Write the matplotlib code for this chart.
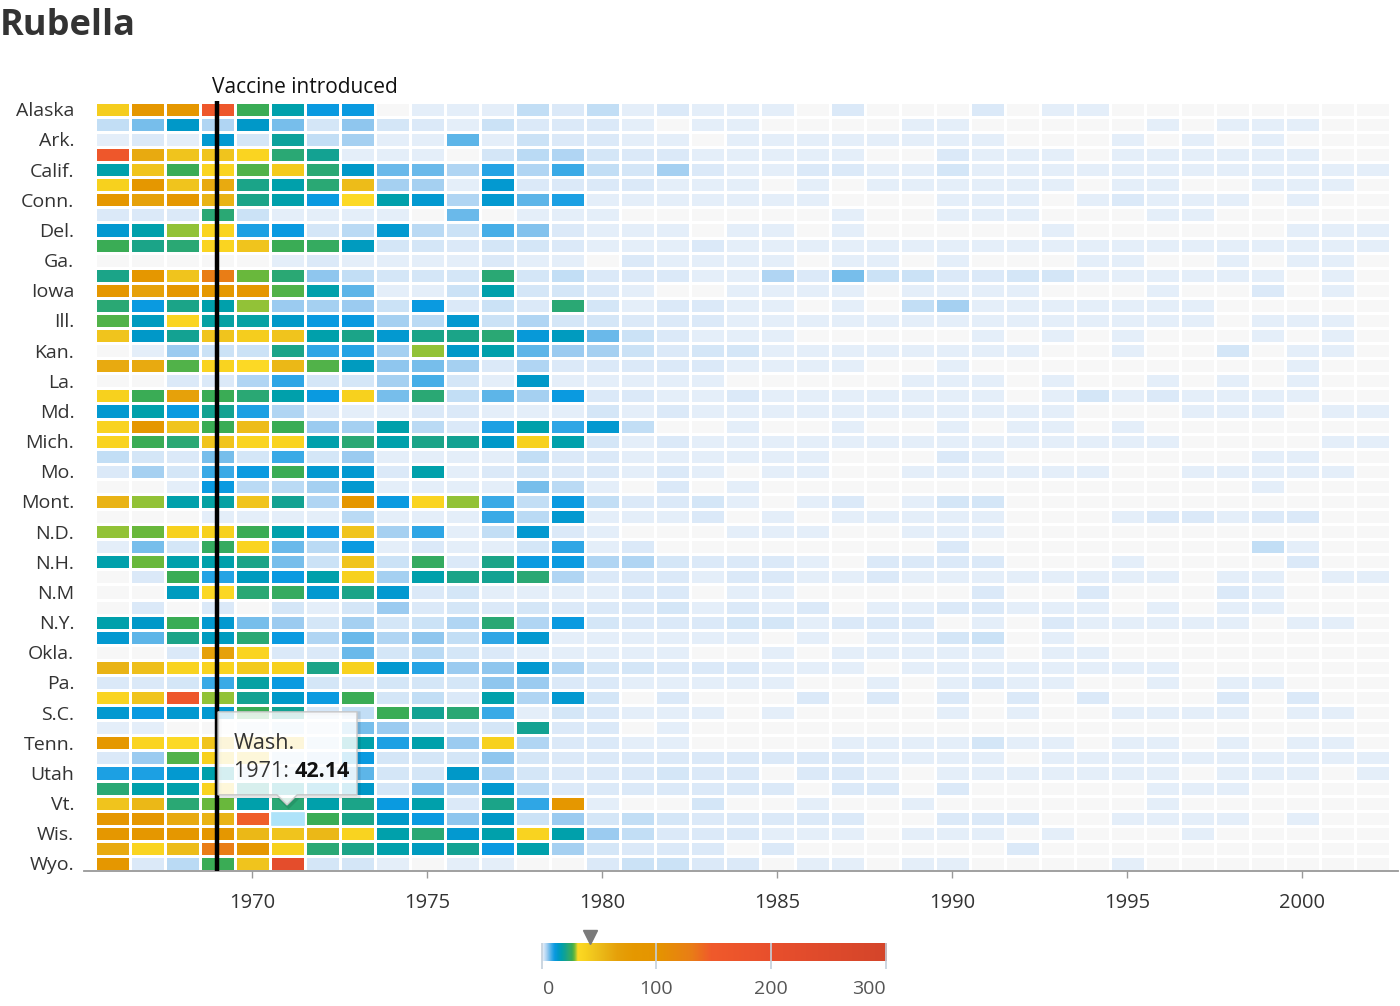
import numpy as np
import matplotlib
matplotlib.use('Agg')
import matplotlib.pyplot as plt
import matplotlib.transforms as mtransforms
from matplotlib.colors import LinearSegmentedColormap, Normalize
from matplotlib.patches import Polygon, Rectangle

plt.rcParams['font.family'] = ['Open Sans', 'DejaVu Sans']

years = np.arange(1966, 2003)

states = ['Alaska', 'Ala.', 'Ark.', 'Ariz.', 'Calif.', 'Colo.', 'Conn.', 'D.C.', 'Del.', 'Fla.',
          'Ga.', 'Hawaii', 'Iowa', 'Idaho', 'Ill.', 'Ind.', 'Kan.', 'Ky.', 'La.', 'Mass.',
          'Md.', 'Maine', 'Mich.', 'Minn.', 'Mo.', 'Miss.', 'Mont.', 'N.C.', 'N.D.', 'Neb.',
          'N.H.', 'N.J.', 'N.M', 'Nev.', 'N.Y.', 'Ohio', 'Okla.', 'Ore.', 'Pa.', 'R.I.',
          'S.C.', 'S.D.', 'Tenn.', 'Texas', 'Utah', 'Va.', 'Vt.', 'Wash.', 'Wis.', 'W.Va.', 'Wyo.']

# cases per 100,000 people, 1966-2002
rates = [
    [40, 90, 90, 160, 26, 17, 11, 11, 0, 0.5, 0.5, 0.5, 2.5, 1, 2.5, 0.5, 1, 0.5, 0.5, 0.5, 0, 1, 0, 0, 0, 1, 0, 0.5, 0.5, 0, 0, 0, 0, 0, 0, 0, 0],
    [2.5, 6, 14, 3.5, 14, 6, 1.5, 5, 1.5, 1, 0.5, 2, 1, 1, 1, 0.5, 0, 0.5, 0.5, 0, 0, 0, 0, 0.5, 0.5, 0, 0, 0, 0, 0, 0.5, 0, 0.5, 0.5, 0.5, 0, 0],
    [0.5, 1, 0.5, 13, 1.5, 19, 2.5, 4, 0.5, 0.5, 7, 0.5, 2, 1, 1, 0.5, 0.5, 0, 0.5, 0.5, 0.5, 0.5, 0.5, 0.5, 0.5, 0.5, 0, 0, 0, 0.5, 0, 0.5, 0, 0.5, 0, 0, 0],
    [160, 60, 45, 45, 35, 23, 20, 0.5, 0.5, 0.5, 0, 1.5, 3, 3.5, 1.5, 1, 1, 0.5, 0.5, 0.5, 0.5, 0.5, 0, 0, 1, 0.5, 0.5, 0.5, 0, 0.5, 0.5, 0.5, 0.5, 0.5, 0.5, 0, 0],
    [17, 45, 26, 35, 27, 42, 23, 14, 6.5, 6.5, 3.5, 9.5, 3.5, 8.5, 2.5, 1.5, 4, 1, 0.5, 0.5, 1, 1, 0.5, 0.5, 1.5, 0.5, 0.5, 0.5, 0.5, 0.5, 0.5, 0.5, 0.5, 0.5, 0.5, 0.5, 0.5],
    [38, 90, 45, 60, 21, 17, 23, 50, 4, 4, 0.5, 13, 1, 1, 1, 1, 0.5, 0.5, 0.5, 0, 0.5, 0, 0.5, 0.5, 0.5, 0.5, 0.5, 0.5, 0, 0.5, 0.5, 0, 0, 0.5, 0.5, 0.5, 0],
    [90, 65, 90, 55, 21, 17, 11, 31, 17, 13, 3.5, 13, 7, 10, 0.5, 0.5, 0.5, 0.5, 0.5, 0.5, 0.5, 0, 0, 0, 0.5, 0.5, 0.5, 0, 0.5, 1, 0.5, 0.5, 0.5, 0, 0.5, 0, 0],
    [1, 1, 1, 23, 2, 0.5, 0.5, 0.5, 0.5, 0, 6.5, 0, 0.5, 0.5, 0.5, 0, 0, 0, 0, 0, 0, 0.5, 0, 0, 0.5, 0.5, 0.5, 0, 0, 0, 0.5, 0.5, 0, 0, 0, 0, 0],
    [13, 17, 29, 35, 10, 11, 1.5, 3, 13, 3, 2, 8, 5.5, 1, 0.5, 0.5, 0.5, 0, 0.5, 0.5, 0, 0.5, 0, 0, 0, 0, 0, 0.5, 0, 0, 0, 0, 0, 0, 0.5, 0.5, 0.5],
    [26, 21, 23, 35, 45, 26, 25, 15, 1.5, 1.5, 1, 1.5, 1.5, 1, 0.5, 0.5, 0.5, 1, 0.5, 0.5, 0.5, 0.5, 0.5, 0.5, 0.5, 0.5, 0.5, 0.5, 0.5, 0.5, 0.5, 0.5, 0.5, 0.5, 0.5, 0.5, 0.5],
    [0, 0, 0, 0, 0, 0.5, 1, 0.5, 0.5, 0.5, 0.5, 1, 0.5, 0.5, 0, 1, 0.5, 0.5, 0.5, 0.5, 0, 0.5, 0.5, 0, 0.5, 0, 0, 0, 0.5, 0.5, 0, 0, 0.5, 0, 0.5, 0.5, 0],
    [21, 90, 45, 130, 28, 23, 5, 2.5, 1.5, 1.5, 1.5, 23, 1.5, 2.5, 1, 1, 1, 0.5, 0.5, 3.5, 1, 6, 2, 2, 1, 1, 1.5, 1.5, 0.5, 0.5, 0.5, 0.5, 0.5, 0.5, 0, 0.5, 0],
    [90, 65, 90, 80, 90, 27, 17, 7, 0.5, 0.5, 2, 17, 1.5, 1.5, 1, 0.5, 0, 0, 0.5, 0.5, 0.5, 0.5, 0, 0.5, 0.5, 0.5, 0.5, 0, 0, 0, 0.5, 0, 0, 1, 0, 0.5, 0],
    [23, 11, 21, 17, 29, 4.5, 4, 4.5, 2, 11, 1, 2, 1, 23, 1.5, 0.5, 1, 1, 0.5, 0.5, 0, 0.5, 0, 2.5, 4, 0.5, 0.5, 0.5, 0.5, 0.5, 0.5, 0.5, 0, 0, 0, 0, 0],
    [27, 15, 35, 18, 18, 14, 11, 11, 4, 3, 13, 2, 3.5, 1.5, 1.5, 1, 1, 1, 0.5, 0.5, 0.5, 0.5, 0.5, 0.5, 0.5, 0.5, 0.5, 0.5, 0.5, 0.5, 0.5, 0.5, 0, 0.5, 0.5, 0.5, 0],
    [45, 14, 20, 45, 40, 45, 17, 21, 13, 21, 21, 23, 12, 15, 6.5, 2, 1, 0.5, 0.5, 0.5, 0, 0, 0, 0, 0, 0.5, 0, 0.5, 0, 0.5, 0, 0, 0, 0.5, 0, 0.5, 0],
    [0, 0.5, 4.5, 2, 2, 21, 9, 9.5, 4, 29, 14, 17, 7, 4.5, 4, 2, 1, 1.5, 1.5, 0.5, 0.5, 0.5, 0.5, 0.5, 0.5, 0.5, 0.5, 0, 0, 0.5, 0, 0, 1.5, 0, 0.5, 0.5, 0],
    [60, 60, 27, 36, 31, 52, 27, 15, 5, 6, 4, 1, 3.5, 1, 1, 1, 1, 1, 0.5, 0.5, 0.5, 0.5, 0, 0, 0.5, 0, 0, 0, 0, 0, 0, 0, 0, 0, 0.5, 0, 0],
    [0, 0, 1, 1, 3.5, 9, 1.5, 1.5, 4, 8, 1.5, 0.5, 14, 0.5, 0.5, 0.5, 0.5, 0.5, 0, 0, 0, 0, 0, 0.5, 0.5, 0.5, 0, 0.5, 0, 0, 0.5, 0, 0.5, 0, 0.5, 0, 0],
    [38, 26, 65, 26, 23, 17, 11, 38, 6, 23, 2.5, 7, 4, 11, 1, 1, 0.5, 0.5, 1, 0.5, 0.5, 0.5, 0.5, 0.5, 0.5, 0.5, 0, 0.5, 1.5, 0.5, 1, 0.5, 0.5, 0.5, 0.5, 0, 0],
    [13, 17, 11, 20, 10, 3.5, 1, 0.5, 0.5, 1, 1, 0.5, 0.5, 0.5, 1.5, 0.5, 1, 0.5, 0.5, 0.5, 0.5, 0.5, 0.5, 0.5, 0.5, 0.5, 0.5, 0.5, 0, 0, 0, 0.5, 0.5, 0.5, 0, 0.5, 0.5],
    [36, 90, 45, 26, 50, 26, 4.5, 4, 17, 3, 1, 10, 17, 9, 13, 2.5, 0, 0, 0.5, 0, 0, 0.5, 0, 0, 0.5, 0, 0.5, 0.5, 0, 0.5, 0, 0, 0, 0, 0, 0, 0],
    [36, 26, 23, 45, 35, 36, 17, 23, 17, 21, 20, 14, 38, 17, 1.5, 0.5, 1, 0.5, 0.5, 0.5, 0.5, 0.5, 0.5, 0.5, 0.5, 0.5, 0.5, 0.5, 0.5, 0.5, 0.5, 0, 0, 0, 0, 0.5, 0.5],
    [2.5, 1.5, 1, 6, 1.5, 8.5, 1.5, 4.5, 0.5, 0.5, 0.5, 0.5, 2.5, 1, 1, 0.5, 0.5, 0.5, 0.5, 0.5, 0.5, 0, 0, 0, 1, 0.5, 0, 0, 0, 0, 0, 0, 0, 0.5, 0.5, 0, 0],
    [1, 4, 1.5, 8.5, 11, 26, 13, 13, 1, 17, 0.5, 1, 1.5, 1, 1, 0.5, 1, 0.5, 0, 0.5, 0.5, 0, 0, 0.5, 0.5, 0.5, 0.5, 0.5, 0.5, 0, 0, 0.5, 0.5, 0.5, 0.5, 0.5, 0],
    [0, 0, 0.5, 11, 3, 3, 4, 13, 0.5, 0.5, 0.5, 0.5, 6, 3, 0.5, 0, 1, 0, 0.5, 0, 0, 0, 0, 0, 0, 0, 0, 0, 0, 0, 0, 0, 0, 0.5, 0, 0, 0],
    [55, 29, 17, 18, 45, 20, 3.5, 90, 11, 35, 29, 8.5, 2.5, 11, 2.5, 1, 1, 1.5, 0.5, 0, 0.5, 1, 0, 0.5, 1.5, 1.5, 0, 0, 0, 0, 0, 0, 0, 0, 0, 0, 0],
    [0, 0, 0, 0.5, 0.5, 0.5, 0.5, 3, 0.5, 0.5, 0.5, 8.5, 3, 13, 0.5, 0.5, 0.5, 1, 0, 0.5, 0, 0.5, 0.5, 0.5, 0.5, 0.5, 0, 0, 0, 0.5, 1, 1, 0.5, 1, 1, 0, 0],
    [29, 28, 38, 38, 26, 17, 11, 45, 4, 9, 0.5, 2.5, 13, 1, 0.5, 0, 0, 0, 0.5, 0.5, 0.5, 0, 0, 0.5, 0.5, 0.5, 0, 0, 0, 0, 0, 0, 0, 0, 0, 0, 0],
    [0.5, 6, 1.5, 25, 35, 6.5, 3, 11, 0.5, 1, 0.5, 0.5, 1.5, 9, 0.5, 1, 0, 0, 0, 0, 0, 0, 0, 0, 1, 0, 0, 0, 0, 0, 0, 0, 0, 2.5, 0.5, 0, 0],
    [17, 28, 17, 17, 21, 6, 2, 45, 2, 25, 1, 21, 11, 11, 3.5, 3.5, 1.5, 1, 1, 1, 0.5, 0, 1, 1, 1, 1, 0, 0, 0, 0.5, 0, 0, 0, 0, 1, 0, 0],
    [0, 1, 26, 9.5, 15, 11, 17, 38, 4, 17, 21, 20, 23, 3.5, 1, 1, 1, 0.5, 1, 1, 0.5, 0.5, 1, 0.5, 0.5, 0.5, 0.5, 0.5, 0.5, 0.5, 0.5, 0, 0.5, 0.5, 0, 0.5, 0.5],
    [0, 0, 15, 33, 23, 25, 13, 21, 13, 1, 1.5, 0.5, 0.5, 0.5, 0.5, 1, 1, 0, 0.5, 0.5, 0, 0, 0, 0, 0, 1, 0, 0, 1, 0, 0, 0, 1, 0.5, 0, 0, 0],
    [0, 1, 0, 1, 0, 1.5, 0.5, 1.5, 4.5, 1, 1.5, 1, 1.5, 1, 1, 1, 1.5, 0.5, 1, 0.5, 1, 0, 0.5, 0.5, 1, 1, 0.5, 0.5, 0.5, 0, 0.5, 0, 0.5, 0.5, 0, 0, 0],
    [17, 14, 26, 13, 6, 4.5, 1.5, 4, 1.5, 2, 3.5, 23, 3.5, 11, 1.5, 1, 1, 1, 1.5, 1.5, 0.5, 1, 1, 1, 0, 0.5, 0, 1, 0.5, 0.5, 0.5, 0.5, 0.5, 0, 0.5, 0.5, 0],
    [13, 7, 21, 15, 23, 11, 3.5, 6.5, 3.5, 5, 2.5, 9, 13, 0.5, 0.5, 0.5, 0.5, 0.5, 0.5, 0, 0.5, 0, 0.5, 0.5, 1.5, 2, 0, 0.5, 0, 0, 0, 0, 0, 0, 0, 0, 0],
    [0, 0, 1, 65, 35, 1, 1, 6.5, 1.5, 3, 1.5, 1, 0.5, 0.5, 0.5, 0.5, 0.5, 0, 0, 0.5, 0, 0.5, 0.5, 0.5, 0.5, 0.5, 0, 0.5, 0.5, 0, 0, 0, 0, 0, 0, 0, 0],
    [55, 48, 36, 36, 42, 38, 21, 38, 13, 9.5, 4.5, 5, 13, 3.5, 1.5, 1.5, 1, 1, 1, 0.5, 0.5, 0.5, 0, 0.5, 0.5, 0.5, 0.5, 0.5, 0.5, 0.5, 0.5, 0, 0, 0, 0, 0, 0],
    [1, 1, 1.5, 8.5, 18, 11, 1.5, 1, 1.5, 1.5, 1.5, 5, 4.5, 1, 1, 0.5, 0.5, 0.5, 0.5, 0.5, 0, 0, 0.5, 0, 0.5, 1, 0.5, 0.5, 0, 0, 0.5, 0, 0.5, 0.5, 0, 0, 0],
    [35, 45, 160, 29, 20, 14, 11, 26, 1.5, 2.5, 1, 17, 3.5, 13, 1.5, 0, 1, 0, 0, 0, 1, 0, 1, 0, 1, 0, 1, 0, 1, 0, 0, 0, 1, 0, 1, 0, 0],
    [13, 11, 13, 13, 26, 20, 1.5, 2.5, 26, 20, 23, 8.5, 0.5, 1.5, 1, 0.5, 0.5, 0.5, 0, 0.5, 0, 0, 0, 0, 0.5, 0, 0.5, 0, 0, 0.5, 0.5, 0.5, 0.5, 0, 0.5, 0.5, 0],
    [0.5, 0.5, 0, 0, 1, 2, 1, 6, 4.5, 1.5, 1.5, 1.5, 20, 1, 1, 0, 0.5, 0, 0, 0, 0, 0, 0, 0, 0, 0, 0, 0, 0, 0, 0, 0, 0, 0, 0, 0, 0],
    [80, 35, 31, 45, 40, 40, 2, 17, 10, 17, 4.5, 38, 3.5, 1, 1, 0.5, 0.5, 0, 0, 0, 0, 0.5, 0.5, 0.5, 0.5, 1.5, 0.5, 0.5, 0, 0.5, 0.5, 0, 0.5, 0, 0.5, 0.5, 0],
    [1, 4.5, 27, 38, 38, 2, 3, 11, 1.5, 1.5, 1.5, 5, 1.5, 1, 1, 1, 1, 1, 1, 1, 1, 1, 0.5, 0.5, 0.5, 0.5, 0, 0.5, 0.5, 0.5, 0.5, 0.5, 0.5, 0.5, 0.5, 0.5, 0.5],
    [10, 10, 13, 17, 2, 2, 3, 7, 1.5, 1.5, 14, 3.5, 1.5, 1, 1, 1, 1.5, 1, 1, 0, 1, 1, 0.5, 0, 0.5, 0.5, 0.5, 0.5, 0.5, 0.5, 0.5, 0, 0.5, 0.5, 0.5, 0, 0.5],
    [23, 17, 17, 36, 20, 17, 14, 14, 1.5, 6, 4, 13, 3, 1, 1, 1, 1, 1, 1, 1, 0, 1, 1, 0, 1, 0, 0, 0, 0, 0, 0.5, 0.5, 0.5, 0, 0, 0, 0],
    [45, 52, 23, 28, 17, 23, 17, 21, 11, 17, 1, 21, 9, 90, 0.5, 0, 0, 1.5, 0, 0, 0.5, 0, 0, 0.5, 0, 0, 0, 0, 0, 0, 0.5, 0, 0, 0, 0, 0, 0],
    [85, 90, 60, 55, 145, 42.14, 26, 21, 14, 11, 5, 14, 2, 4.5, 1.5, 2.5, 1.5, 1, 1, 1, 1, 1, 0, 0, 1, 1, 1, 0, 0, 0.5, 0.5, 0.5, 0.5, 0, 0.5, 0, 0],
    [90, 90, 90, 90, 52, 45, 52, 36, 17, 23, 13, 17, 36, 17, 4.5, 2.5, 1, 1, 1, 0.5, 0.5, 0.5, 0, 0.5, 0.5, 0.5, 0, 0.5, 0, 0, 0, 0.5, 0, 0, 0, 0, 0],
    [60, 35, 50, 130, 90, 38, 23, 21, 17, 15, 20, 11, 17, 4, 1.5, 1, 1, 1, 0, 1, 0, 0, 0, 0, 0, 0, 1, 0, 0, 0, 0, 0, 0, 0, 0, 0, 0],
    [85, 1, 3, 26, 45, 220, 1.5, 1.5, 0.5, 0, 0.5, 0.5, 0, 0, 1, 2, 2, 1, 1, 0, 0.5, 0.5, 0, 0.5, 0.5, 0, 0, 0, 0, 0.5, 0, 0, 0, 0, 0, 0, 0],
]

vaccine_year = 1969
hover_state = 'Wash.'
hover_year = 1971
legend_ticks = [0, 100, 200, 300]
x_ticks = [1970, 1975, 1980, 1985, 1990, 1995, 2000]

# colour scale stops (value, colour)
stops = [(0, '#f7f7f7'), (0.3, '#e7f0fa'), (1, '#dbe9f8'), (2, '#cbe2f6'), (3.5, '#b0d5f3'),
         (5, '#8fc6ee'), (7, '#5db5e8'), (9, '#2ea6e5'), (11, '#0a9ae0'), (14, '#0098c8'),
         (17, '#00a0ab'), (20, '#13a292'), (23, '#2aa874'), (26, '#3aac55'), (28, '#69b83c'),
         (29.5, '#a8c835'), (31, '#fdd925'), (38, '#f7d11e'), (45, '#f0c41d'), (55, '#e9b315'),
         (65, '#e6a10a'), (80, '#e59800'), (100, '#e59500'), (130, '#e97d16'), (147, '#f05a2b'),
         (200, '#e84f2d'), (300, '#d4452a')]

data = np.array(rates)
vmax = stops[-1][0]
cmap = LinearSegmentedColormap.from_list('rubella', [(v / vmax, c) for v, c in stops], N=8192)
norm = Normalize(0, vmax)

fig = plt.figure(figsize=(14, 10.06), dpi=100)
ax = fig.add_axes([84 / 1400, 1 - 871 / 1006, 1314 / 1400, 770 / 1006])

xe = np.append(years - 0.5, years[-1] + 0.5)
ye = np.arange(len(states) + 1) - 0.5
ax.pcolormesh(xe, ye, data, cmap=cmap, norm=norm, edgecolors='white', linewidth=0.95)
ax.set_xlim(1965.2, 2002.74)
ax.set_ylim(len(states) - 0.5, -0.55)

ax.set_xticks(x_ticks)
ax.tick_params(axis='x', length=5, width=1, color='#999999', labelsize=14.5,
               labelcolor='#333333', pad=11)
ax.set_yticks(range(0, len(states), 2))
ax.set_yticklabels(states[::2])
ax.tick_params(axis='y', length=0, labelsize=14, labelcolor='#333333', pad=7)
for s in ['top', 'right', 'left']:
    ax.spines[s].set_visible(False)
ax.spines['bottom'].set_color('#999999')
ax.spines['bottom'].set_linewidth(1.3)

# vaccine marker
ax.axvline(vaccine_year, color='black', lw=3.2, zorder=3)
ax.text(vaccine_year - 0.14, 1.017, 'Vaccine introduced', transform=ax.get_xaxis_transform(),
        ha='left', va='center', fontsize=15, color='#111111')

# hovered cell + tooltip
r = states.index(hover_state)
c = list(years).index(hover_year)
hx = hover_year
ax.add_patch(Rectangle((hx - 0.5, r - 0.5), 1, 1, fc='#aee3f9', ec='white', lw=0.95, zorder=2))
shape = [(hx - 1.97, r - 7.05), (hx + 2.0, r - 7.05), (hx + 2.0, r - 1.55), (hx + 0.29, r - 1.55),
         (hx, r - 0.88), (hx - 0.29, r - 1.55), (hx - 1.97, r - 1.55)]
shadow_tr = mtransforms.offset_copy(ax.transData, fig=fig, x=1.5, y=-1.5, units='dots')
ax.add_patch(Polygon(shape, closed=True, fc='none', ec=(0, 0, 0, 0.10), lw=3,
                     transform=shadow_tr, zorder=4))
ax.add_patch(Polygon(shape, closed=True, fc=(1, 1, 1, 0.84), ec='#c8c8c8', lw=1, zorder=5))
ax.text(hx - 1.51, r - 4.93, hover_state, fontsize=15.5, color='#333333',
        ha='left', va='center', zorder=6)
t1 = ax.text(hx - 1.51, r - 3.07, f'{hover_year}: ', fontsize=15.5, color='#333333',
             ha='left', va='center', zorder=6)
ax.annotate(f'{data[r, c]:.2f}', xy=(1, 0), xycoords=t1, ha='left', va='bottom',
            fontsize=15.5, fontweight='bold', color='#111111', zorder=6)

# title
fig.text(0.0, 1 - 26 / 1006, 'Rubella', ha='left', va='center', fontsize=26,
         fontweight='bold', color='#333333')

# colour legend
cax = fig.add_axes([541.7 / 1400, 1 - 961 / 1006, 344.3 / 1400, 18 / 1006])
grad = np.linspace(0, vmax, 1500).reshape(1, -1)
cax.imshow(grad, cmap=cmap, norm=norm, extent=[0, vmax, 0, 1], aspect='auto')
cax.set_xlim(0, vmax)
cax.set_ylim(0, 1)
cax.axis('off')
cax.vlines(legend_ticks, -0.42, 1, colors='#c3d0dc', lw=1.2, clip_on=False)
for v in legend_ticks:
    ha = 'left' if v == legend_ticks[0] else ('right' if v == legend_ticks[-1] else 'center')
    cax.text(v + (1.5 if ha == 'left' else 0), -1.55, str(v), ha=ha, va='center',
             fontsize=14, color='#555555')
cax.plot(data[r, c], 1.36, marker='v', ms=10, color='#7a7a7a', clip_on=False)

fig.savefig('out.png', dpi=100)
